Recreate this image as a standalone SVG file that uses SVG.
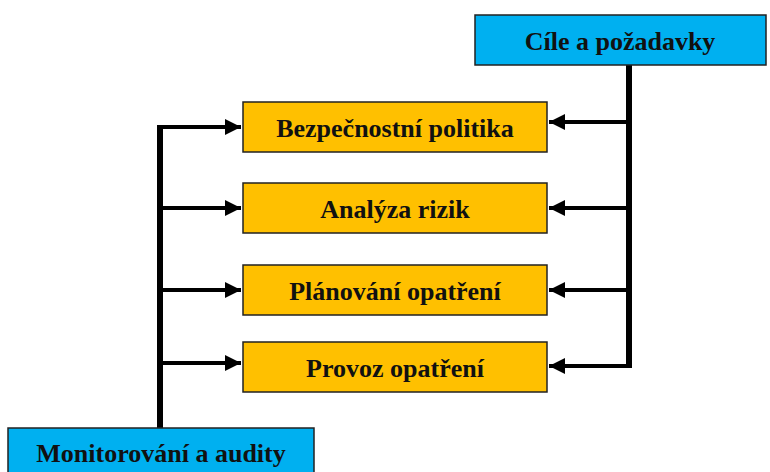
<svg xmlns="http://www.w3.org/2000/svg" width="770" height="472" viewBox="0 0 770 472">
<style>
.blue{fill:#00B0F0;stroke:#222;stroke-width:1.5}
.yel{fill:#FFC000;stroke:#222;stroke-width:1.5}
.t{font-family:"Liberation Serif","Times New Roman",serif;font-weight:bold;font-size:26px;fill:#111;text-anchor:middle;dominant-baseline:central}
.ln{stroke:#000;fill:none}
</style>
<defs>
<marker id="ah" viewBox="0 0 10 10" refX="10" refY="5" markerWidth="4" markerHeight="4" orient="auto" markerUnits="strokeWidth">
<path d="M0,0 L10,5 L0,10 Z" fill="#000"/>
</marker>
</defs>
<rect width="770" height="472" fill="#fff"/>
<g id="connectors">
<path class="ln" stroke-width="6" d="M629,65 V366"/>
<path class="ln" stroke-width="4" d="M629,122 H549" marker-end="url(#ah)"/>
<path class="ln" stroke-width="4" d="M629,208 H549" marker-end="url(#ah)"/>
<path class="ln" stroke-width="4" d="M629,290 H549" marker-end="url(#ah)"/>
<path class="ln" stroke-width="4" d="M632,366 H549" marker-end="url(#ah)"/>
<path class="ln" stroke-width="6" d="M160,428 V125"/>
<path class="ln" stroke-width="4" d="M157,127 H241" marker-end="url(#ah)"/>
<path class="ln" stroke-width="4" d="M160,208 H241" marker-end="url(#ah)"/>
<path class="ln" stroke-width="4" d="M160,290 H241" marker-end="url(#ah)"/>
<path class="ln" stroke-width="4" d="M160,363 H241" marker-end="url(#ah)"/>
</g>
<g id="cile"><rect class="blue" x="475" y="15" width="291" height="50"/><text class="t" x="620" y="41">Cíle a požadavky</text></g>
<g id="bezpecnostni"><rect class="yel" x="243" y="102" width="304" height="50"/><text class="t" x="395" y="128">Bezpečnostní politika</text></g>
<g id="analyza"><rect class="yel" x="243" y="183" width="304" height="50"/><text class="t" x="395" y="209">Analýza rizik</text></g>
<g id="planovani"><rect class="yel" x="243" y="265" width="304" height="50"/><text class="t" x="395" y="291">Plánování opatření</text></g>
<g id="provoz"><rect class="yel" x="243" y="342" width="304" height="50"/><text class="t" x="395" y="368">Provoz opatření</text></g>
<g id="monitorovani"><rect class="blue" x="8" y="428" width="306" height="50"/><text class="t" x="161" y="453">Monitorování a audity</text></g>
</svg>
